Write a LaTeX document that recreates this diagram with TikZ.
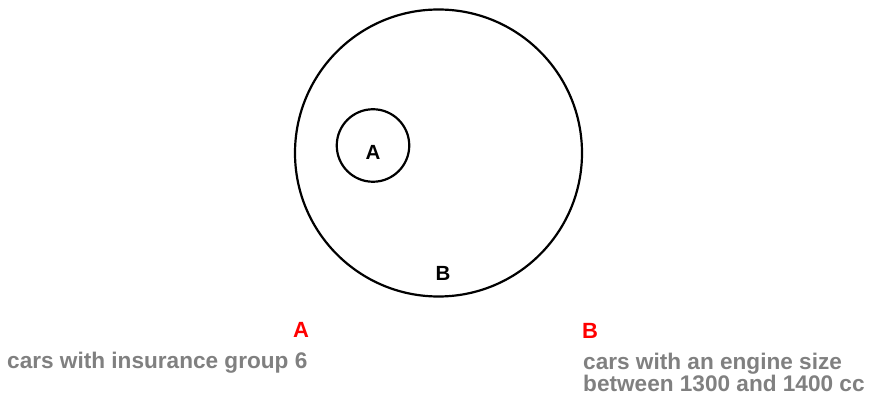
\documentclass[tikz,border=0pt]{standalone}
\usepackage{fontspec}
\setmainfont{Liberation Sans}
\definecolor{descgray}{HTML}{808080}
\begin{document}
\begin{tikzpicture}[x=1pt,y=-1pt,
  setcircle/.style={draw=black,line width=2.2pt,circle,inner sep=0pt},
  lbl/.style={font=\fontsize{20.5}{20.5}\selectfont\bfseries,inner sep=0pt},
  keylbl/.style={font=\fontsize{22}{22}\selectfont\bfseries,text=red,inner sep=0pt},
  desc/.style={font=\fontsize{22.6}{18.5}\selectfont\bfseries,text=descgray,align=left,inner sep=0pt}]
\useasboundingbox (0,0) rectangle (873,395);
\node[setcircle,minimum size=287pt] (B) at (438.5,153) {};
\node[setcircle,minimum size=72.5pt] (A) at (373,145.5) {};
\node[lbl] (la) at (373,152) {A};
\node[lbl] (lb) at (443,273) {B};
\node[keylbl] (ka) at (301,330) {A};
\node[keylbl] (kb) at (590,331) {B};
\node[desc,anchor=base west] (da) at (7,369) {cars with insurance group 6};
\node[desc,anchor=north west] (db) at (583,352.5) {cars with an engine size\\between 1300 and 1400 cc};
\end{tikzpicture}
\end{document}
